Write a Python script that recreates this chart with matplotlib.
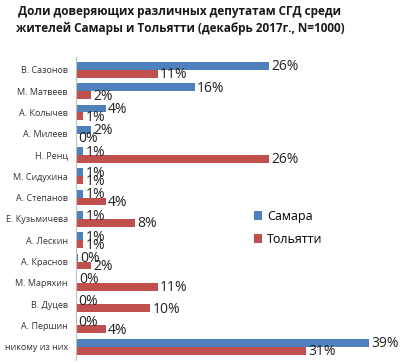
import numpy as np
import matplotlib
matplotlib.use('Agg')
import matplotlib.pyplot as plt

plt.rcParams['font.family'] = ['Open Sans', 'DejaVu Sans']

names = ['В. Сазонов', 'М. Матвеев', 'А. Колычев', 'А. Милеев', 'Н. Ренц',
         'М. Сидухина', 'А. Степанов', 'Е. Кузьмичева', 'А. Лескин',
         'А. Краснов', 'М. Маряхин', 'В. Дуцев', 'А. Першин', 'никому из них']
samara = [26, 16, 4, 2, 1, 1, 1, 1, 1, 0, 0, 0, 0, 39]
togliatti = [11, 2, 1, 0, 26, 1, 4, 8, 1, 2, 11, 10, 4, 31]
samara_bar = [26, 16, 4, 2, 1, 1, 1, 1, 1, 0.3, 0.2, 0, 0, 39.5]
togliatti_bar = [11, 2, 1, 0, 26, 1, 4, 8, 1, 2, 11, 10, 4, 31]

blue = '#4F81BD'
red = '#C0504D'

fig = plt.figure(figsize=(4, 3.64), dpi=100)
ax = fig.add_axes([0.19, 4.5 / 364, 0.7425, 302.5 / 364])

y = np.arange(len(names))
h = 0.37
ax.barh(y - h / 2, samara_bar, height=h, color=blue, label='Самара')
ax.barh(y + h / 2, togliatti_bar, height=h, color=red, label='Тольятти')

for i in range(len(names)):
    ax.text(samara_bar[i] + 0.3, y[i] - h / 2 + 0.05, f'{samara[i]}%',
            va='center', ha='left', fontsize=10, color='#222222')
    ax.text(togliatti_bar[i] + 0.3, y[i] + h / 2 + 0.05, f'{togliatti[i]}%',
            va='center', ha='left', fontsize=10, color='#222222')

ax.set_xlim(0, 40)
ax.set_ylim(len(names) - 0.4, -0.6)
ax.set_yticks(y)
ax.set_yticklabels(names, fontsize=6.5, color='#333333')
ax.set_xticks([])
ax.tick_params('y', length=0, pad=6)
for s in ['top', 'right', 'bottom']:
    ax.spines[s].set_visible(False)
ax.spines['left'].set_color('#BFBFBF')
ax.spines['left'].set_linewidth(0.8)

leg = ax.legend(loc='center left', bbox_to_anchor=(0.56, 0.435), frameon=False,
                fontsize=9, handlelength=0.7, handleheight=0.7,
                handletextpad=0.4, labelspacing=0.8)

fig.text(0.45, 0.985, 'Доли доверяющих различных депутатам СГД среди\n'
         'жителей Самары и Тольятти (декабрь 2017г., N=1000)',
         ha='center', va='top', fontsize=8.5, fontweight='bold',
         linespacing=1.3, color='#1a1a1a')

fig.savefig('out.png', dpi=100)
